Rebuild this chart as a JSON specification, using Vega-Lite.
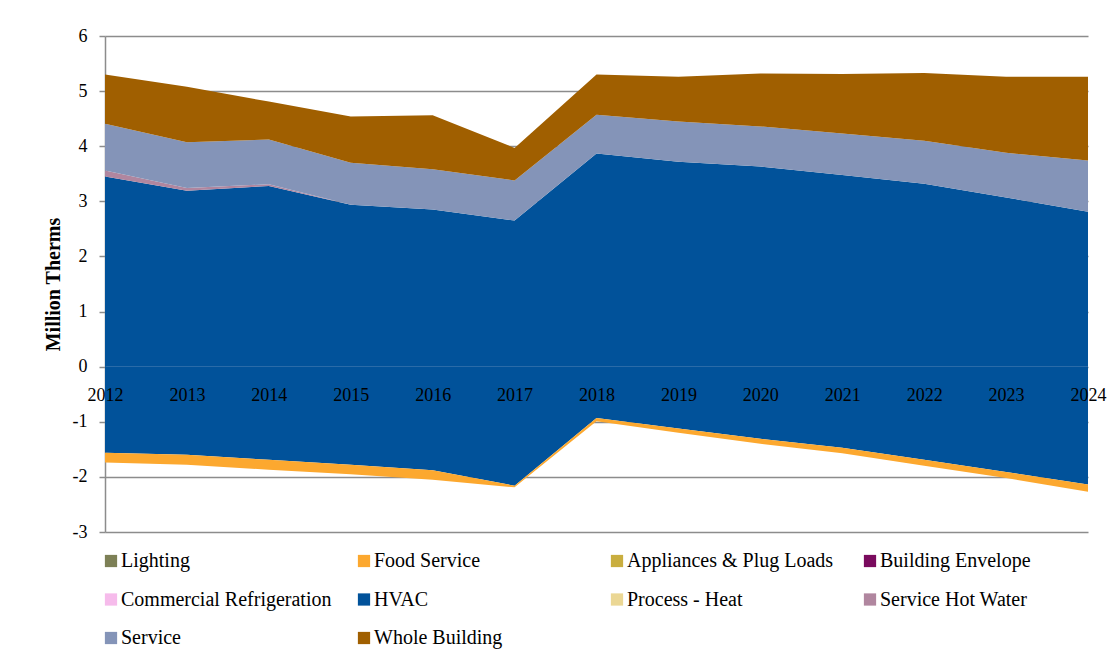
{
  "$schema": "https://vega.github.io/schema/vega-lite/v6.json",
  "width": 983,
  "height": 496,
  "autosize": {"type": "none"},
  "padding": {"left": 105, "top": 36, "right": 26, "bottom": 135},
  "background": "white",
  "config": {
    "font": "Liberation Serif",
    "view": {"stroke": null}
  },
  "data": {
    "values": [
      {"year": 2012, "series": "HVAC", "value": 3.45},
      {"year": 2013, "series": "HVAC", "value": 3.19},
      {"year": 2014, "series": "HVAC", "value": 3.28},
      {"year": 2015, "series": "HVAC", "value": 2.94},
      {"year": 2016, "series": "HVAC", "value": 2.85},
      {"year": 2017, "series": "HVAC", "value": 2.65},
      {"year": 2018, "series": "HVAC", "value": 3.87},
      {"year": 2019, "series": "HVAC", "value": 3.72},
      {"year": 2020, "series": "HVAC", "value": 3.63},
      {"year": 2021, "series": "HVAC", "value": 3.48},
      {"year": 2022, "series": "HVAC", "value": 3.32},
      {"year": 2023, "series": "HVAC", "value": 3.07},
      {"year": 2024, "series": "HVAC", "value": 2.81},
      {"year": 2012, "series": "Service Hot Water", "value": 0.11},
      {"year": 2013, "series": "Service Hot Water", "value": 0.05},
      {"year": 2014, "series": "Service Hot Water", "value": 0.03},
      {"year": 2015, "series": "Service Hot Water", "value": 0},
      {"year": 2016, "series": "Service Hot Water", "value": 0},
      {"year": 2017, "series": "Service Hot Water", "value": 0},
      {"year": 2018, "series": "Service Hot Water", "value": 0},
      {"year": 2019, "series": "Service Hot Water", "value": 0},
      {"year": 2020, "series": "Service Hot Water", "value": 0},
      {"year": 2021, "series": "Service Hot Water", "value": 0},
      {"year": 2022, "series": "Service Hot Water", "value": 0},
      {"year": 2023, "series": "Service Hot Water", "value": 0},
      {"year": 2024, "series": "Service Hot Water", "value": 0},
      {"year": 2012, "series": "Service", "value": 0.85},
      {"year": 2013, "series": "Service", "value": 0.83},
      {"year": 2014, "series": "Service", "value": 0.81},
      {"year": 2015, "series": "Service", "value": 0.76},
      {"year": 2016, "series": "Service", "value": 0.73},
      {"year": 2017, "series": "Service", "value": 0.73},
      {"year": 2018, "series": "Service", "value": 0.70},
      {"year": 2019, "series": "Service", "value": 0.73},
      {"year": 2020, "series": "Service", "value": 0.73},
      {"year": 2021, "series": "Service", "value": 0.75},
      {"year": 2022, "series": "Service", "value": 0.78},
      {"year": 2023, "series": "Service", "value": 0.81},
      {"year": 2024, "series": "Service", "value": 0.93},
      {"year": 2012, "series": "Whole Building", "value": 0.89},
      {"year": 2013, "series": "Whole Building", "value": 1.01},
      {"year": 2014, "series": "Whole Building", "value": 0.69},
      {"year": 2015, "series": "Whole Building", "value": 0.84},
      {"year": 2016, "series": "Whole Building", "value": 0.98},
      {"year": 2017, "series": "Whole Building", "value": 0.59},
      {"year": 2018, "series": "Whole Building", "value": 0.73},
      {"year": 2019, "series": "Whole Building", "value": 0.81},
      {"year": 2020, "series": "Whole Building", "value": 0.96},
      {"year": 2021, "series": "Whole Building", "value": 1.08},
      {"year": 2022, "series": "Whole Building", "value": 1.23},
      {"year": 2023, "series": "Whole Building", "value": 1.38},
      {"year": 2024, "series": "Whole Building", "value": 1.52},
      {"year": 2012, "series": "HVAC", "value": -1.56},
      {"year": 2013, "series": "HVAC", "value": -1.60},
      {"year": 2014, "series": "HVAC", "value": -1.69},
      {"year": 2015, "series": "HVAC", "value": -1.78},
      {"year": 2016, "series": "HVAC", "value": -1.88},
      {"year": 2017, "series": "HVAC", "value": -2.16},
      {"year": 2018, "series": "HVAC", "value": -0.93},
      {"year": 2019, "series": "HVAC", "value": -1.12},
      {"year": 2020, "series": "HVAC", "value": -1.31},
      {"year": 2021, "series": "HVAC", "value": -1.47},
      {"year": 2022, "series": "HVAC", "value": -1.69},
      {"year": 2023, "series": "HVAC", "value": -1.91},
      {"year": 2024, "series": "HVAC", "value": -2.14},
      {"year": 2012, "series": "Food Service", "value": -0.18},
      {"year": 2013, "series": "Food Service", "value": -0.18},
      {"year": 2014, "series": "Food Service", "value": -0.18},
      {"year": 2015, "series": "Food Service", "value": -0.17},
      {"year": 2016, "series": "Food Service", "value": -0.17},
      {"year": 2017, "series": "Food Service", "value": -0.03},
      {"year": 2018, "series": "Food Service", "value": -0.06},
      {"year": 2019, "series": "Food Service", "value": -0.08},
      {"year": 2020, "series": "Food Service", "value": -0.09},
      {"year": 2021, "series": "Food Service", "value": -0.10},
      {"year": 2022, "series": "Food Service", "value": -0.11},
      {"year": 2023, "series": "Food Service", "value": -0.11},
      {"year": 2024, "series": "Food Service", "value": -0.13}
    ]
  },
  "transform": [
    {"calculate": "datum.value < 0 ? 'neg' : 'pos'", "as": "side"},
    {"calculate": "indexof(['HVAC','Service Hot Water','Service','Whole Building','Food Service'], datum.series)", "as": "k"}
  ],
  "mark": {"type": "area", "interpolate": "linear", "opacity": 1},
  "encoding": {
    "x": {
      "field": "year",
      "type": "quantitative",
      "scale": {"domain": [2012, 2024], "nice": false, "zero": false},
      "axis": {
        "title": null,
        "values": [2012, 2013, 2014, 2015, 2016, 2017, 2018, 2019, 2020, 2021, 2022, 2023, 2024],
        "format": "d",
        "offset": -165,
        "domain": false,
        "ticks": false,
        "grid": false,
        "labelFlush": false,
        "labelOverlap": false,
        "labelFontSize": 18,
        "labelColor": "#000000",
        "labelPadding": 19,
        "labelFont": "Liberation Serif",
        "zindex": 1
      }
    },
    "y": {
      "field": "value",
      "type": "quantitative",
      "stack": "zero",
      "scale": {"domain": [-3, 6], "nice": false},
      "axis": {
        "title": "Million Therms",
        "titleFontSize": 20,
        "titleFontWeight": "bold",
        "titleColor": "#000000",
        "titleFont": "Liberation Serif",
        "titlePadding": 9,
        "values": [-3, -2, -1, 0, 1, 2, 3, 4, 5, 6],
        "labelExpr": "'' + datum.value",
        "grid": true,
        "gridColor": "#8c8c8c",
        "gridWidth": 1.5,
        "domainColor": "#8c8c8c",
        "domainWidth": 1.5,
        "tickColor": "#8c8c8c",
        "tickSize": 6,
        "tickWidth": 1.5,
        "labelFontSize": 18,
        "labelColor": "#000000",
        "labelPadding": 12,
        "labelFont": "Liberation Serif",
        "zindex": 0
      }
    },
    "color": {
      "field": "series",
      "type": "nominal",
      "scale": {
        "domain": ["Lighting", "Food Service", "Appliances & Plug Loads", "Building Envelope", "Commercial Refrigeration", "HVAC", "Process - Heat", "Service Hot Water", "Service", "Whole Building"],
        "range": ["#7d8056", "#fca82f", "#c9ae3f", "#7a0b5e", "#f6bbeb", "#01529a", "#ebd794", "#b0869f", "#8494b8", "#a05f00"]
      },
      "legend": {
        "title": null,
        "orient": "none",
        "legendX": -4,
        "legendY": 515,
        "direction": "horizontal",
        "columns": 4,
        "gridAlign": "all",
        "columnPadding": 22,
        "rowPadding": 18.5,
        "symbolType": "square",
        "symbolSize": 150,
        "symbolStrokeWidth": 0,
        "symbolOpacity": 1,
        "symbolOffset": 0,
        "labelOffset": 0,
        "labelFontSize": 20,
        "labelColor": "#000000",
        "labelFont": "Liberation Serif",
        "labelLimit": 400
      }
    },
    "detail": {"field": "side", "type": "nominal"},
    "order": {"field": "k", "type": "quantitative", "sort": "ascending"}
  }
}
